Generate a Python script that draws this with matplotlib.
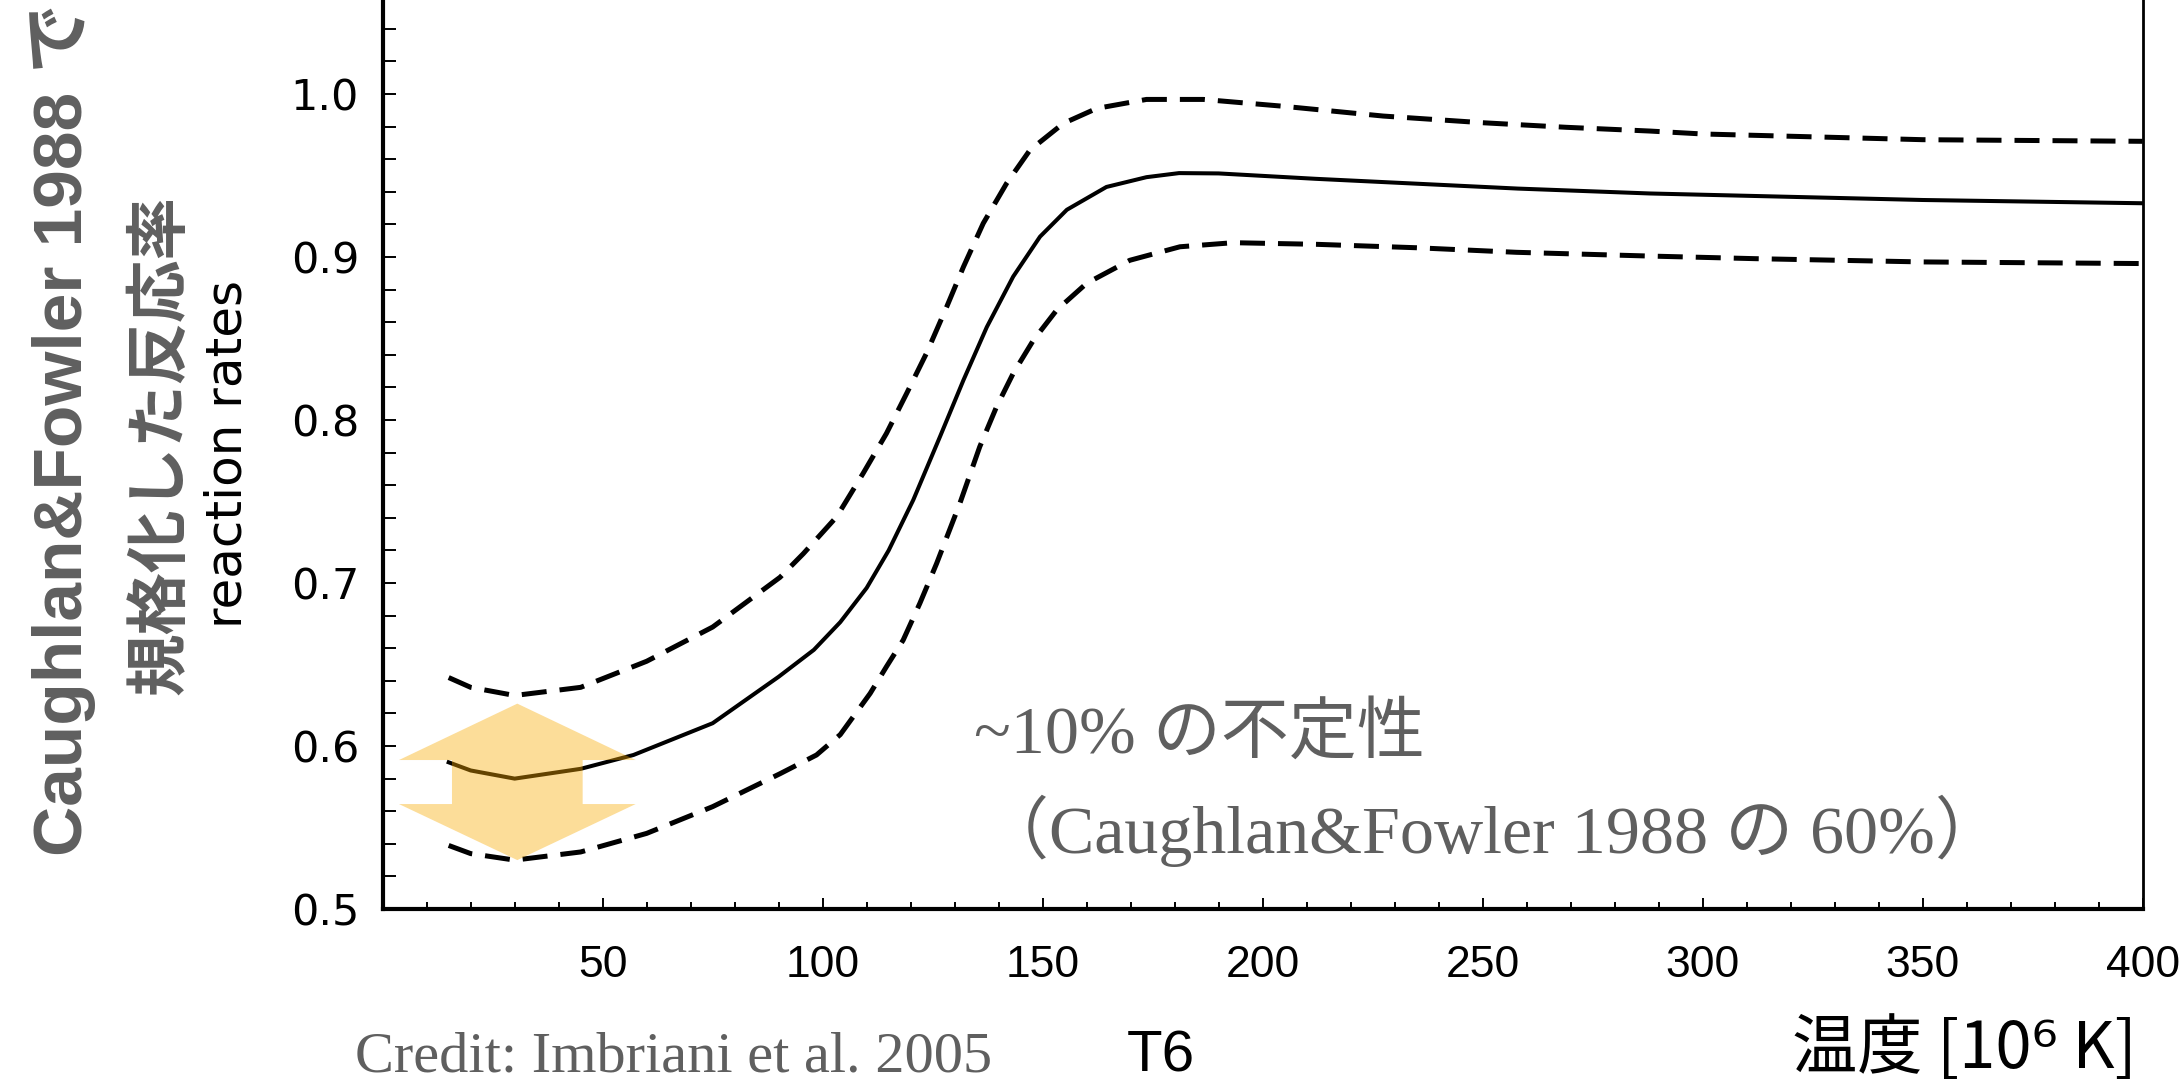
import matplotlib.pyplot as plt
from matplotlib.patches import Polygon
from matplotlib.ticker import MultipleLocator, FuncFormatter

plt.rcParams['font.family'] = ['Liberation Sans', 'Noto Sans CJK JP', 'DejaVu Sans']

# (T6 = temperature in 10^6 K)
T_mid = [15, 20, 30, 45, 57, 75, 90, 98, 104, 110, 115, 120.6, 126.7, 132, 137.3, 143.3, 149.4, 155.5,
         164.5, 173.6, 181, 190, 212, 235, 258, 288, 350, 400]
rate_mid = [0.590, 0.585, 0.580, 0.586, 0.5945, 0.614, 0.6425, 0.659, 0.676, 0.697, 0.720, 0.751, 0.790,
            0.8245, 0.857, 0.888, 0.9125, 0.929, 0.943, 0.949, 0.9515, 0.9513, 0.948, 0.945, 0.942, 0.939,
            0.935, 0.933]

T_up = [15, 20, 30, 45, 60, 75, 90.3, 95.6, 103.2, 109.2, 114.5, 119.1, 123.6, 128.2, 132, 136.5, 141.8,
        147.1, 154.7, 162.3, 173.6, 186.5, 204.7, 227.4, 250, 269, 288, 300, 350, 400]
rate_up = [0.642, 0.636, 0.631, 0.636, 0.652, 0.673, 0.7035, 0.718, 0.7407, 0.7673, 0.7918, 0.8164, 0.841,
           0.8695, 0.894, 0.9207, 0.9452, 0.9656, 0.982, 0.9912, 0.9967, 0.9967, 0.9925, 0.9865, 0.9824,
           0.9796, 0.9773, 0.9755, 0.972, 0.971]

T_low = [15, 20, 30, 45, 60, 75, 90.3, 98.6, 104, 110.8, 114.5, 118.3, 122.1, 125.9, 131.2, 135.7, 139.5,
         143.3, 147.9, 153.2, 160, 169.8, 181.2, 193.3, 212.3, 235, 257.7, 288, 312, 350, 400]
rate_low = [0.539, 0.534, 0.530, 0.535, 0.5464, 0.5628, 0.583, 0.5945, 0.607, 0.6323, 0.6487, 0.665, 0.6876,
            0.712, 0.749, 0.7836, 0.808, 0.8286, 0.849, 0.8675, 0.8839, 0.898, 0.9063, 0.9088, 0.9078,
            0.9057, 0.9029, 0.9006, 0.899, 0.897, 0.896]

# double arrow marking the uncertainty
arrow_x = 30.6
arrow_top, arrow_bottom = 0.626, 0.530
head_top_base, head_bottom_base = 0.5914, 0.5644
head_half, shaft_half = 26.9, 14.85

gray = '#5f5f5f'

fig = plt.figure(figsize=(21.83, 10.85), dpi=100)
ax = fig.add_axes([0.1753, 0.1622, 0.8062, 0.8378])

ax.plot(T_mid, rate_mid, color='black', lw=2.9)
ax.plot(T_up, rate_up, color='black', lw=3.6, dashes=(5, 2.6))
ax.plot(T_low, rate_low, color='black', lw=3.6, dashes=(5, 2.6))

pts = [(arrow_x, arrow_top),
       (arrow_x + head_half, head_top_base), (arrow_x + shaft_half, head_top_base),
       (arrow_x + shaft_half, head_bottom_base), (arrow_x + head_half, head_bottom_base),
       (arrow_x, arrow_bottom),
       (arrow_x - head_half, head_bottom_base), (arrow_x - shaft_half, head_bottom_base),
       (arrow_x - shaft_half, head_top_base), (arrow_x - head_half, head_top_base)]
ax.add_patch(Polygon(pts, closed=True, facecolor='#F9AA00', edgecolor='none', alpha=0.4, zorder=5))

ax.text(134.5, 0.607, '~10% の不定性', color=gray, fontsize=49, va='center', ha='left',
        family=['Liberation Serif', 'Noto Sans CJK JP'])
ax.text(136, 0.548, '（Caughlan&Fowler 1988 の 60%）', color=gray, fontsize=49, va='center', ha='left',
        family=['Liberation Serif', 'Noto Sans CJK JP'])

ax.set_xlim(0, 400)
ax.set_ylim(0.5, 1.0577)
ax.xaxis.set_major_locator(MultipleLocator(50))
ax.xaxis.set_minor_locator(MultipleLocator(10))
ax.yaxis.set_major_locator(MultipleLocator(0.1))
ax.yaxis.set_minor_locator(MultipleLocator(0.02))
ax.xaxis.set_major_formatter(FuncFormatter(lambda v, p: '' if v == 0 else '%d' % v))
ax.yaxis.set_major_formatter(FuncFormatter(lambda v, p: '%.1f' % v))

ax.tick_params(axis='x', which='major', direction='in', length=8, width=1.4, pad=26, labelsize=32)
ax.tick_params(axis='x', which='minor', direction='in', length=5, width=1.4)
ax.tick_params(axis='y', which='both', direction='in', length=9, width=1.4, right=False)
ax.tick_params(axis='y', which='major', pad=17, labelsize=31)
for lbl in ax.get_yticklabels():
    lbl.set_family('DejaVu Sans')

ax.spines['top'].set_visible(False)
ax.spines['left'].set_linewidth(3)
ax.spines['bottom'].set_linewidth(3)
ax.spines['right'].set_linewidth(2)

# axis titles
fig.text(0.029, 0.604, 'Caughlan&Fowler 1988 で', rotation=90, ha='center', va='center',
         color=gray, fontsize=50, fontweight='bold')
fig.text(0.0733, 0.59, '規格化した反応率', rotation=90, ha='center', va='center',
         color=gray, fontsize=45, fontweight='bold', family=['Noto Sans CJK JP'])
fig.text(0.104, 0.582, 'reaction rates', rotation=90, ha='center', va='center',
         color='black', fontsize=36, family=['DejaVu Sans'])

fig.text(0.532, 0.0507, 'T6', ha='center', va='top', fontsize=42, color='black')
fig.text(0.979, 0.002, '温度 [10⁶ K]', ha='right', va='bottom', fontsize=47, color='black',
         family=['Noto Sans CJK JP', 'DejaVu Sans'])
fig.text(0.1626, 0.012, 'Credit: Imbriani et al. 2005', ha='left', va='baseline', fontsize=42,
         color=gray, family=['Liberation Serif'])

fig.savefig('out.png', dpi=100)
